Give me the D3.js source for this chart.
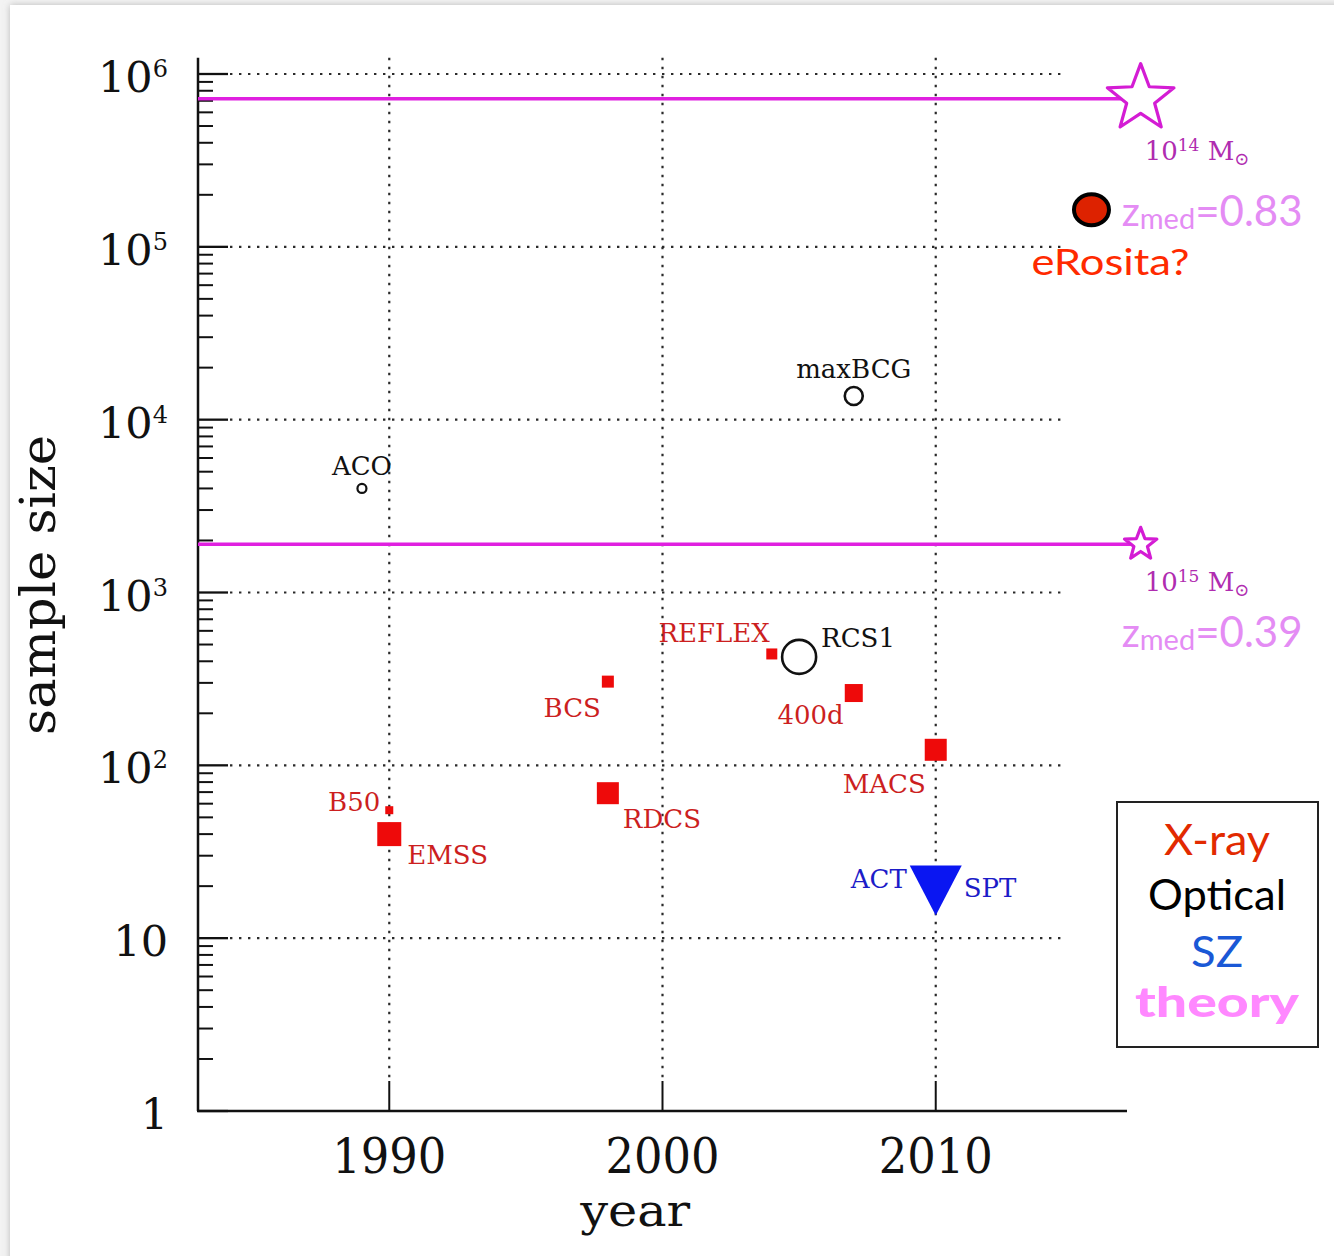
<!DOCTYPE html>
<html><head><meta charset="utf-8">
<script src="https://cdn.jsdelivr.net/npm/d3@7"></script>
<style>html,body{margin:0;padding:0;background:#fff;} svg{display:block}</style>
</head><body>
<svg id="chart" width="1334" height="1256"></svg>
<script>
// ---------------- data ----------------
const xrayNames  = ["B50","EMSS","BCS","RDCS","REFLEX","400d","MACS"];
const xrayYears  = [1990, 1990, 1998, 1998, 2004, 2007, 2010];
const xraySizes  = [55, 40, 305, 69, 441, 262, 123];
const opticalNames = ["ACO","RCS1","maxBCG"];
const opticalYears = [1989, 2005, 2007];
const opticalSizes = [4000, 424, 13700];
const szNames = ["ACT","SPT"];
const szYears = [2010];
const szSizes = [21];
const theoryMassExp = ["14","15"];
const theoryCounts  = [720000, 1900];
const theoryZmed    = ["0.83","0.39"];
const theoryYear    = 2017.5;
const erositaYears = [2015.7];
const erositaSizes = [164000];
const yTickExps  = [0,1,2,3,4,5,6];
const xTickYears = [1990, 2000, 2010];
const legendLabels = ["X-ray","Optical","SZ","theory"];

// ---------------- styles / layout ----------------
const serif = "'DejaVu Serif', 'Liberation Serif', serif";
const sans  = "Lato, 'Open Sans', 'DejaVu Sans', sans-serif";
const xraySquare = {B50:8, EMSS:24, BCS:12, RDCS:22, REFLEX:11, "400d":18, MACS:22};
const xrayLabel  = {B50:[-9,1,"end"], EMSS:[18,30,"start"], BCS:[-7,35,"end"], RDCS:[15,35,"start"],
                    REFLEX:[-2,-12,"end"], "400d":[-10,31,"end"], MACS:[-10,43,"end"]};
const opticalR     = {ACO:4.5, RCS1:17, maxBCG:9};
const opticalLabel = {ACO:[0,-13,"middle"], RCS1:[22,-10,"start"], maxBCG:[0,-18,"middle"]};
const szLabel = {ACT:[-29,6,"end"], SPT:[28,15,"start"]};
const starR = [35, 17];
const massLabelDy = [61, 47];
const zmedDy = [127, 103];
const legendColors = ["#e22a00","#000000","#1a58d6","#ff88ff"];

const svg = d3.select("#chart");
const W = 1334, H = 1256;

// page frame with soft shadow
const defs = svg.append("defs");
const f = defs.append("filter").attr("id","sh").attr("x","-5%").attr("y","-5%").attr("width","110%").attr("height","110%");
f.append("feDropShadow").attr("dx",0).attr("dy",0).attr("stdDeviation",3.5).attr("flood-color","#888").attr("flood-opacity",0.55);
svg.append("rect").attr("width",W).attr("height",H).attr("fill","#f3f3f3");
svg.append("rect").attr("x",10).attr("y",5).attr("width",W+20).attr("height",H+20).attr("fill","#fff").attr("filter","url(#sh)");

const x = d3.scaleLinear().domain([1983, 2017]).range([198, 1127]);
const y = d3.scaleLog().domain([1, 1e6]).range([1111, 74]);
const yTop = y(1.24e6);

const g = svg.append("g");
const dot = {stroke:"#2a2a2a", w:2.2, dash:"2.4,6.6"};

// vertical dotted grid
g.selectAll(".vg").data(xTickYears).enter().append("line")
  .attr("x1",d=>x(d)).attr("x2",d=>x(d)).attr("y1",yTop).attr("y2",y(1)-30)
  .attr("stroke",dot.stroke).attr("stroke-width",dot.w).attr("stroke-dasharray",dot.dash);
// horizontal dotted grid
g.selectAll(".hg").data(yTickExps.filter(e=>e>0)).enter().append("line")
  .attr("x1",x(1983)+32).attr("x2",x(2014.65)).attr("y1",d=>y(Math.pow(10,d))).attr("y2",d=>y(Math.pow(10,d)))
  .attr("stroke",dot.stroke).attr("stroke-width",dot.w).attr("stroke-dasharray",dot.dash);

// axes lines
g.append("line").attr("x1",x(1983)).attr("x2",x(1983)).attr("y1",yTop).attr("y2",y(1)).attr("stroke","#111").attr("stroke-width",2.5);
g.append("line").attr("x1",x(1983)-1).attr("x2",x(2017)).attr("y1",y(1)).attr("y2",y(1)).attr("stroke","#111").attr("stroke-width",2.5);

// y major ticks
g.selectAll(".ymaj").data(yTickExps).enter().append("line")
  .attr("x1",x(1983)).attr("x2",x(1983)+30).attr("y1",d=>y(Math.pow(10,d))).attr("y2",d=>y(Math.pow(10,d)))
  .attr("stroke","#111").attr("stroke-width",2.3);
// y minor ticks
const minor = [];
yTickExps.slice(0,-1).forEach(e=>{ for(let m=2;m<=9;m++) minor.push(m*Math.pow(10,e)); });
g.selectAll(".ymin").data(minor).enter().append("line")
  .attr("x1",x(1983)).attr("x2",x(1983)+15).attr("y1",d=>y(d)).attr("y2",d=>y(d))
  .attr("stroke","#111").attr("stroke-width",2);
// x ticks
g.selectAll(".xt").data(xTickYears).enter().append("line")
  .attr("x1",d=>x(d)).attr("x2",d=>x(d)).attr("y1",y(1)).attr("y2",y(1)-30)
  .attr("stroke","#111").attr("stroke-width",2);

// y tick labels
yTickExps.forEach(e=>{
  const t = g.append("text").attr("x",168).attr("y",y(Math.pow(10,e))+18)
    .attr("text-anchor","end").attr("font-family",serif).attr("font-size",43).attr("fill","#111");
  if (e===0) t.text("1");
  else if (e===1) t.text("10");
  else {
    t.append("tspan").text("10");
    t.append("tspan").attr("font-size",24).attr("dy",-15).text(String(e));
  }
});
// x tick labels
g.selectAll(".xl").data(xTickYears).enter().append("text")
  .attr("x",d=>x(d)).attr("y",1173).attr("text-anchor","middle")
  .attr("font-family",serif).attr("font-size",48).attr("fill","#111")
  .attr("textLength",114).attr("lengthAdjust","spacingAndGlyphs").text(d=>d);
// axis titles
g.append("text").attr("x",x(1999)).attr("y",1226).attr("text-anchor","middle")
  .attr("font-family",serif).attr("font-size",45).attr("fill","#111")
  .attr("textLength",110).attr("lengthAdjust","spacingAndGlyphs").text("year");
g.append("text").attr("transform","translate(55,585) rotate(-90)").attr("text-anchor","middle")
  .attr("font-family",serif).attr("font-size",48).attr("fill","#111")
  .attr("textLength",300).attr("lengthAdjust","spacingAndGlyphs").text("sample size");

// theory lines + stars
const starPath = (cx, cy, R, k) => {
  const p = [];
  for (let i=0;i<10;i++){ const a = (-90 + i*36)*Math.PI/180; const r = i%2 ? R*k : R; p.push([cx+r*Math.cos(a), cy+r*Math.sin(a)]); }
  return "M" + p.map(q=>q[0].toFixed(2)+","+q[1].toFixed(2)).join("L") + "Z";
};
theoryCounts.forEach((c,i)=>{
  const cx = x(theoryYear), cy = y(c);
  g.append("line").attr("x1",x(1983)).attr("x2",cx).attr("y1",cy).attr("y2",cy)
    .attr("stroke","#e020e0").attr("stroke-width",3.5);
  g.append("path").attr("d",starPath(cx,cy,starR[i],0.42)).attr("fill","#fff")
    .attr("stroke","#d41cd4").attr("stroke-width",3.2).attr("stroke-linejoin","round");
  const ml = g.append("text").attr("x",cx+4).attr("y",cy+massLabelDy[i])
    .attr("font-family",serif).attr("font-size",26).attr("fill","#b02cb0");
  ml.append("tspan").text("10");
  ml.append("tspan").attr("font-size",17).attr("dy",-9).text(theoryMassExp[i]);
  ml.append("tspan").attr("dy",9).text(" M");
  ml.append("tspan").attr("font-size",18).attr("dy",5).text("\u2299");
  const zl = g.append("text").attr("x",cx-19).attr("y",cy+zmedDy[i])
    .attr("font-family",sans).attr("fill","#e48cf4");
  zl.append("tspan").attr("font-size",40).text("z");
  zl.append("tspan").attr("font-size",29).attr("dy",3).text("med");
  zl.append("tspan").attr("font-size",42).attr("dy",-3).text("=" + theoryZmed[i]);
});

// eRosita
erositaYears.forEach((yr,i)=>{
  const cx = x(yr), cy = y(erositaSizes[i]);
  g.append("ellipse").attr("cx",cx).attr("cy",cy).attr("rx",17.5).attr("ry",15.5)
    .attr("fill","#dd2200").attr("stroke","#000").attr("stroke-width",4);
  g.append("text").attr("x",cx-60).attr("y",cy+65).attr("font-family",sans).attr("font-size",37)
    .attr("fill","#ff2a00").attr("textLength",158).attr("lengthAdjust","spacingAndGlyphs").text("eRosita?");
});

// X-ray squares
xrayNames.forEach((n,i)=>{
  const cx = x(xrayYears[i]), cy = y(xraySizes[i]), s = xraySquare[n];
  g.append("rect").attr("x",cx-s/2).attr("y",cy-s/2).attr("width",s).attr("height",s).attr("fill","#ee0a0a");
  const L = xrayLabel[n];
  g.append("text").attr("x",cx+L[0]).attr("y",cy+L[1]).attr("text-anchor",L[2])
    .attr("font-family",serif).attr("font-size",26).attr("fill","#cc1f1f").text(n);
});
// Optical circles
opticalNames.forEach((n,i)=>{
  const cx = x(opticalYears[i]), cy = y(opticalSizes[i]);
  g.append("circle").attr("cx",cx).attr("cy",cy).attr("r",opticalR[n]).attr("fill","none")
    .attr("stroke","#111").attr("stroke-width",n==="ACO"?2.2:2.6);
  const L = opticalLabel[n];
  g.append("text").attr("x",cx+L[0]).attr("y",cy+L[1]).attr("text-anchor",L[2])
    .attr("font-family",serif).attr("font-size",26).attr("fill","#111").text(n);
});
// SZ triangle
szYears.forEach((yr,i)=>{
  const cx = x(yr), cy = y(szSizes[i]);
  g.append("path").attr("d",`M${cx-26},${cy-17}L${cx+26},${cy-17}L${cx},${cy+33}Z`).attr("fill","#0a16f2");
  szNames.forEach(n=>{
    const L = szLabel[n];
    g.append("text").attr("x",cx+L[0]).attr("y",cy+L[1]).attr("text-anchor",L[2])
      .attr("font-family",serif).attr("font-size",26).attr("fill","#1c1cc8").text(n);
  });
});

// legend box
g.append("rect").attr("x",1117).attr("y",802).attr("width",201).attr("height",245)
  .attr("fill","#fff").attr("stroke","#222").attr("stroke-width",2);
const legY = [855, 910, 967, 1017];
const legLen = [106, 138, 52, 164];
legendLabels.forEach((t,i)=>{
  g.append("text").attr("x",1217).attr("y",legY[i]).attr("text-anchor","middle")
    .attr("font-family",sans).attr("font-size",42).attr("font-weight",i===3?900:400)
    .attr("fill",legendColors[i]).attr("textLength",legLen[i]).attr("lengthAdjust","spacingAndGlyphs").text(t);
});
</script>
</body></html>
